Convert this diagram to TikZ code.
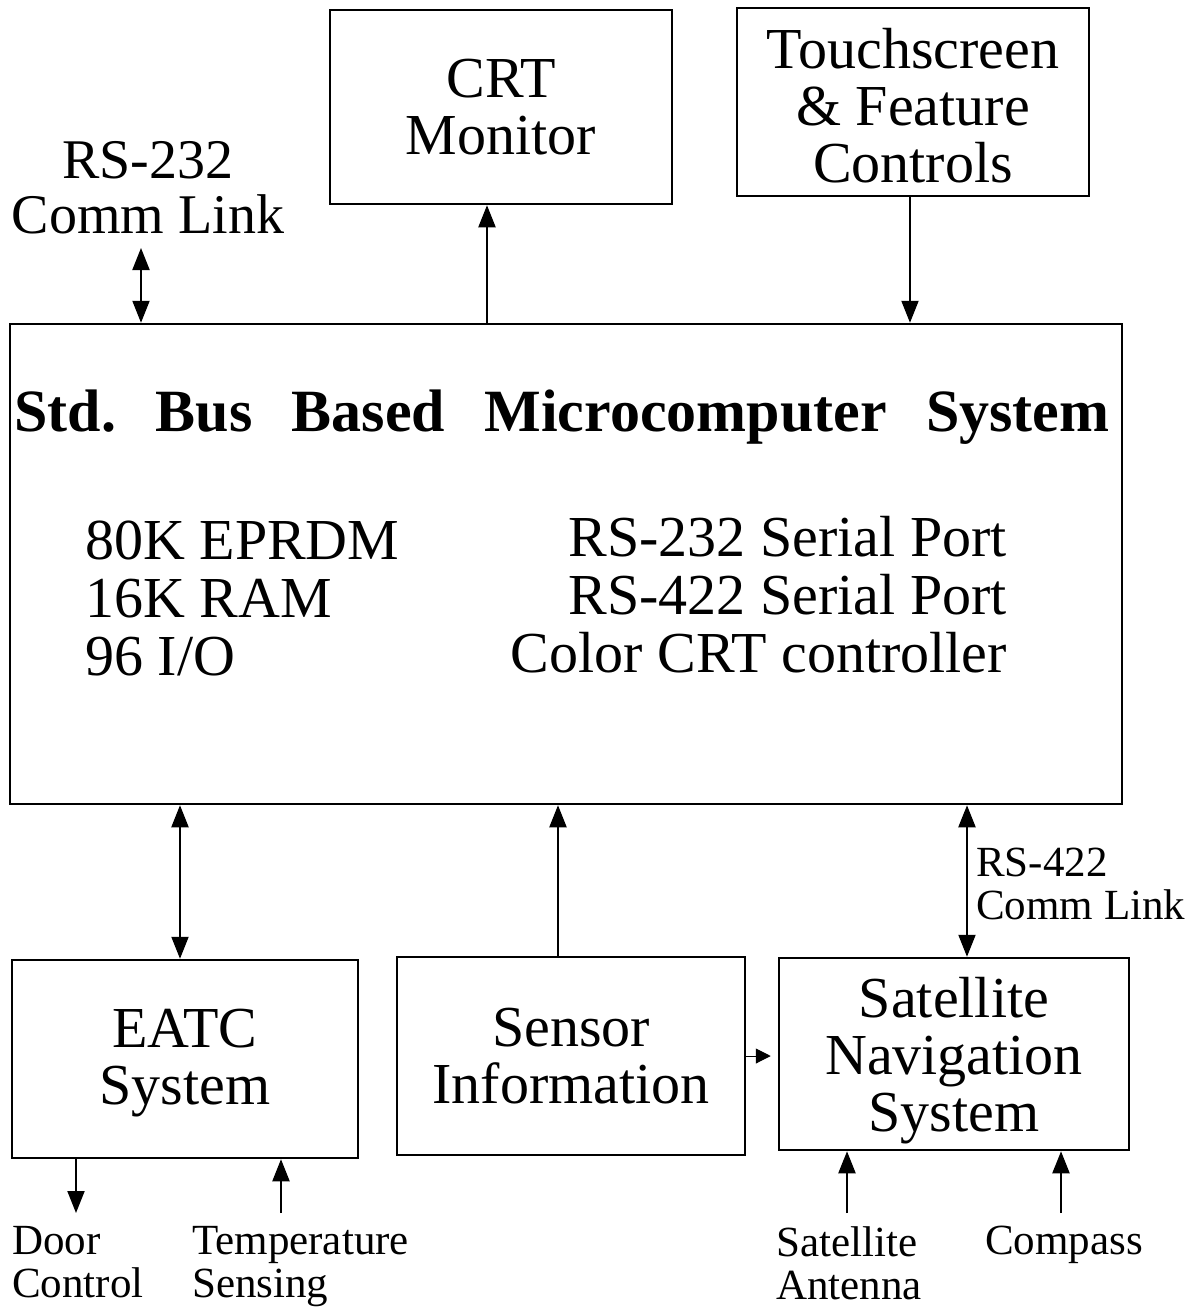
\documentclass[tikz,border=0pt]{standalone}
\usepackage{fontspec}
\setmainfont{Liberation Serif}
\usetikzlibrary{arrows.meta,positioning}

\begin{document}
\begin{tikzpicture}[
		x=1pt, y=-1pt,
		block/.style={draw, line width=2.5pt, align=center, font=\fontsize{58}{57}\selectfont},
		mainblock/.style={draw, line width=2.5pt, minimum width=1112pt, minimum height=480pt},
		bodytext/.style={inner sep=0pt, font=\fontsize{58}{58}\selectfont},
		caption/.style={inner sep=0pt, align=left, font=\fontsize{43}{43}\selectfont},
		link/.style={line width=2pt, -{Triangle[length=22pt, width=17pt]}},
		duplex/.style={line width=2pt, {Triangle[length=22pt, width=17pt]}-{Triangle[length=22pt, width=17pt]}},
		tiplink/.style={line width=1pt, shorten >=7pt, -{Triangle[length=15pt, width=15pt]}},
	]
	\useasboundingbox (0,0) rectangle (1201,1308);

	\node (micro) [mainblock] at (566,564) {};
	\node (title) [inner sep=0pt, anchor=base, font=\bfseries\fontsize{60}{60}\selectfont] at (562,431)
		{\makebox[1095pt]{Std.\hfill Bus\hfill Based\hfill Microcomputer\hfill System}};
	\node (memory) [bodytext, align=left, anchor=west] at (85,598) {80K EPRDM\\16K RAM\\96 I/O};
	\node (ports) [bodytext, align=right, anchor=east] at (1007,595) {RS-232 Serial Port\\RS-422 Serial Port\\Color CRT controller};

	\node (crt) [block, minimum width=342pt, minimum height=194pt] at (501,107) {CRT\\Monitor};
	\node (touch) [block, minimum width=352pt, minimum height=188pt] at (913,102) {\\[-10pt]Touchscreen\\\& Feature\\Controls};
	\node (rs232) [inner sep=0pt, align=center, font=\fontsize{56}{55}\selectfont] at (148,188) {RS-232\\Comm Link};
	\coordinate (rs232 end) at (141,248);

	\node (eatc) [block, minimum width=346pt, minimum height=198pt] at (185,1059) {\\[-10pt]EATC\\System};
	\node (sensor) [block, minimum width=348pt, minimum height=198pt] at (571,1056) {Sensor\\Information};
	\node (satnav) [block, minimum width=350pt, minimum height=192pt] at (954,1054) {\\[-4pt]Satellite\\Navigation\\System};
	\node (rs422) [caption, anchor=west] at (976,884) {RS-422\\Comm Link};

	\node (door) [caption, anchor=north west] at (12,1226) {Door\\Control};
	\node (temp) [caption, anchor=north west] at (192,1226) {Temperature\\Sensing};
	\node (antenna) [caption, anchor=north west] at (776,1226) {Satellite\\Antenna};
	\node (compass) [caption, anchor=north west] at (985,1226) {Compass};
	\coordinate (door end) at (76,1213);
	\coordinate (temp end) at (281,1213);
	\coordinate (antenna end) at (847,1213);
	\coordinate (compass end) at (1061,1213);

	\draw[duplex] (rs232 end) -- (rs232 end |- micro.north);
	\draw[link] ([xshift=-14pt]crt.south |- micro.north) -- ([xshift=-14pt]crt.south);
	\draw[link] ([xshift=-3pt]touch.south) -- ([xshift=-3pt]touch.south |- micro.north);
	\draw[duplex] ([xshift=-5pt]eatc.north) -- ([xshift=-5pt]eatc.north |- micro.south);
	\draw[link] ([xshift=-13pt]sensor.north) -- ([xshift=-13pt]sensor.north |- micro.south);
	\draw[duplex] ([xshift=13pt]satnav.north) -- ([xshift=13pt]satnav.north |- micro.south);
	\draw[tiplink] (sensor.east) -- (sensor.east -| satnav.west);

	\draw[link] (door end |- eatc.south) -- (door end);
	\draw[link] (temp end) -- (temp end |- eatc.south);
	\draw[link] (antenna end) -- (antenna end |- satnav.south);
	\draw[link] (compass end) -- (compass end |- satnav.south);
\end{tikzpicture}
\end{document}
